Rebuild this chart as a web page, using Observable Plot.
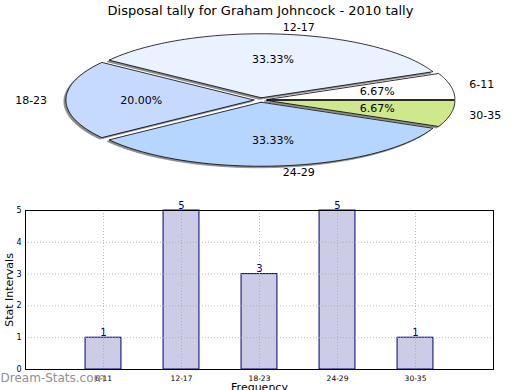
<!DOCTYPE html>
<html>
<head>
<meta charset="utf-8">
<script src="https://cdn.jsdelivr.net/npm/d3@7"></script>
<script src="https://cdn.jsdelivr.net/npm/@observablehq/plot@0.6"></script>
<style>
  html, body { margin: 0; padding: 0; background: #fff; }
  #wrap { position: relative; width: 520px; height: 390px; overflow: hidden; font-family: "DejaVu Sans", sans-serif; }
  #pie { position: absolute; left: 0; top: 0; }
  #bar { position: absolute; left: 0; top: 195px; }
  svg { font-family: "DejaVu Sans", sans-serif; }
</style>
</head>
<body>
<div id="wrap"><div id="pie"></div><div id="bar"></div></div>
<script>
const title = "Disposal tally for Graham Johncock - 2010 tally";
const categories = ["6-11", "12-17", "18-23", "24-29", "30-35"];
const counts = [1, 5, 3, 5, 1];
const sliceColors = ["#ffffff", "#ebf2ff", "#c6d9ff", "#b6d6ff", "#cfe88c"];
const yTicks = [0, 1, 2, 3, 4, 5];
const xLabel = "Frequency";
const yLabel = "Stat Intervals";
const watermark = "Dream-Stats.com";

// ---------- pie (ellipse in unit-circle data space) ----------
const total = d3.sum(counts);
const explode = 0.035;
const pts = [], labels = [], pcts = [];
let cum = 0;
categories.forEach((c, i) => {
  const a0 = cum / total * 2 * Math.PI;
  cum += counts[i];
  const a1 = cum / total * 2 * Math.PI;
  const mid = (a0 + a1) / 2;
  const ox = explode * Math.cos(mid), oy = explode * Math.sin(mid);
  pts.push({cat: c, x: ox, y: oy});
  const n = Math.max(2, Math.ceil((a1 - a0) / (Math.PI / 180)));
  for (let k = 0; k <= n; k++) {
    const t = a0 + (a1 - a0) * k / n;
    pts.push({cat: c, x: ox + Math.cos(t), y: oy + Math.sin(t)});
  }
  pts.push({cat: c, x: ox, y: oy});
  labels.push({cat: c, x: ox + 1.1 * Math.cos(mid), y: oy + 1.1 * Math.sin(mid), right: Math.cos(mid) >= 0});
  pcts.push({txt: (counts[i] / total * 100).toFixed(2) + "%", x: ox + 0.6 * Math.cos(mid), y: oy + 0.6 * Math.sin(mid)});
});

const rx = 188, ry = 64, cx = 260, cy = 99.5, H1 = 195;
const pie = Plot.plot({
  width: 520, height: H1,
  margin: 0,
  x: {domain: [-cx / rx, (520 - cx) / rx], axis: null},
  y: {domain: [(cy - H1) / ry, cy / ry], axis: null},
  color: {domain: categories, range: sliceColors},
  marks: [
    Plot.line(pts, {x: "x", y: "y", z: "cat", fill: "#8a8a8a", stroke: "#8a8a8a", strokeWidth: 0.8, dx: -2, dy: 1.5, curve: "linear"}),
    Plot.line(pts, {x: "x", y: "y", z: "cat", fill: "cat", stroke: "black", strokeWidth: 0.8, curve: "linear"}),
    Plot.text(labels.filter(d => d.right), {x: "x", y: "y", text: "cat", textAnchor: "start", fontSize: 11, fill: "black"}),
    Plot.text(labels.filter(d => !d.right), {x: "x", y: "y", text: "cat", textAnchor: "end", fontSize: 11, fill: "black"}),
    Plot.text(pcts, {x: "x", y: "y", text: "txt", fontSize: 11, fill: "black"}),
    Plot.text([title], {frameAnchor: "top", lineAnchor: "middle", dy: 10, fontSize: 13, fill: "black"})
  ]
});
document.getElementById("pie").appendChild(pie);

// ---------- bar chart ----------
const barData = categories.map((c, i) => ({cat: c, pos: i + 1, v: counts[i]}));
const half = 0.23;
const bar = Plot.plot({
  width: 520, height: 195,
  marginLeft: 25, marginRight: 27, marginTop: 15, marginBottom: 21,
  x: {domain: [0, 6], ticks: barData.map(d => d.pos), tickFormat: d => categories[d - 1], tickSize: 0, label: null},
  y: {domain: [0, 5], ticks: yTicks, tickSize: 0, label: null},
  marks: [
    Plot.rect(barData, {x1: d => d.pos - half, x2: d => d.pos + half, y1: 0, y2: "v", fill: "#ccccE6", stroke: "#000080", strokeWidth: 1}),
    Plot.gridX(barData.map(d => d.pos), {stroke: "#aaa", strokeOpacity: 0.8, strokeDasharray: "1,2"}),
    Plot.gridY(yTicks.slice(1, -1), {stroke: "#aaa", strokeOpacity: 0.8, strokeDasharray: "1,2"}),
    Plot.frame({stroke: "black", strokeWidth: 1}),
    Plot.axisX(barData.map(d => d.pos), {tickFormat: d => categories[d - 1], tickSize: 0, tickPadding: 6, fontSize: 7.5, label: null}),
    Plot.axisY(yTicks, {tickSize: 0, tickPadding: 4, fontSize: 8, label: null}),
    Plot.text(barData, {x: "pos", y: "v", text: d => String(d.v), dy: -5, fill: "#000080", fontSize: 10}),
    Plot.text([yLabel], {frameAnchor: "left", textAnchor: "middle", dx: -16, rotate: -90, fontSize: 11, fill: "black"}),
    Plot.text([xLabel], {frameAnchor: "bottom", textAnchor: "middle", dy: 21, fontSize: 11, fill: "black"}),
    Plot.text([watermark], {frameAnchor: "bottom-left", dx: -25, dy: 12, textAnchor: "start", fontSize: 12, fill: "#909090"})
  ]
});
document.getElementById("bar").appendChild(bar);
</script>
</body>
</html>
